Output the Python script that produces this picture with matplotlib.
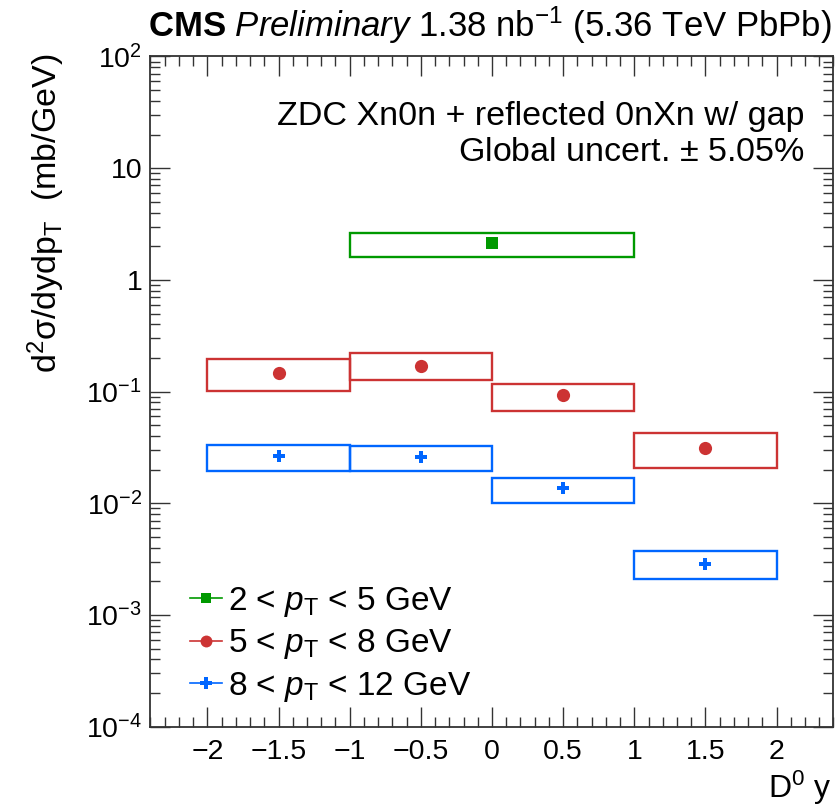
import matplotlib
matplotlib.use('Agg')
import matplotlib.pyplot as plt
from matplotlib.patches import Rectangle
from matplotlib.lines import Line2D
from matplotlib.ticker import FixedLocator, FuncFormatter, LogLocator, MultipleLocator
import numpy as np

plt.rcParams['font.family'] = ['Liberation Sans', 'DejaVu Sans']
plt.rcParams['mathtext.fontset'] = 'custom'
plt.rcParams['mathtext.rm'] = 'Liberation Sans'
plt.rcParams['mathtext.it'] = 'Liberation Sans:italic'
plt.rcParams['mathtext.bf'] = 'Liberation Sans:bold'

# rapidity bins
y_lo = [-2.0, -1.0, 0.0, 1.0]
y_hi = [-1.0, 0.0, 1.0, 2.0]

# 2 < pT < 5 GeV (only the -1..1 bin)
pt25_lo = [-1.0]
pt25_hi = [1.0]
pt25_val = [2.14]
pt25_sys_up = [2.63]
pt25_sys_dn = [1.60]

# 5 < pT < 8 GeV
pt58_val = [0.147, 0.171, 0.093, 0.031]
pt58_sys_up = [0.197, 0.220, 0.116, 0.0422]
pt58_sys_dn = [0.101, 0.127, 0.0668, 0.0208]

# 8 < pT < 12 GeV
pt812_val = [0.0265, 0.0258, 0.0136, 0.00288]
pt812_sys_up = [0.0336, 0.0327, 0.0167, 0.00376]
pt812_sys_dn = [0.0195, 0.0195, 0.0101, 0.0021]

labels = [r'2 < $p_{\mathrm{T}}$ < 5 GeV',
          r'5 < $p_{\mathrm{T}}$ < 8 GeV',
          r'8 < $p_{\mathrm{T}}$ < 12 GeV']
colors = ['#009900', '#cc3333', '#0066ff']
markers = ['s', 'o', 'P']
msizes = [8.5, 9.5, 9]

fig = plt.figure(figsize=(8.37, 8.07), dpi=100)
ax = fig.add_axes([0.1798, 0.0995, 0.816, 0.8305])


def draw_series(lo, hi, val, up, dn, col, mk, ms):
    for a, b, v, u, d in zip(lo, hi, val, up, dn):
        ax.add_patch(Rectangle((a, d), b - a, u - d, fill=False,
                               edgecolor=col, lw=1.7, zorder=2))
    x = [(a + b) / 2 for a, b in zip(lo, hi)]
    ax.plot(x, val, ls='none', marker=mk, ms=ms, color=col, mec=col, mew=0, zorder=3)


draw_series(pt25_lo, pt25_hi, pt25_val, pt25_sys_up, pt25_sys_dn,
            colors[0], markers[0], msizes[0])
draw_series(y_lo, y_hi, pt58_val, pt58_sys_up, pt58_sys_dn,
            colors[1], markers[1], msizes[1])
draw_series(y_lo, y_hi, pt812_val, pt812_sys_up, pt812_sys_dn,
            colors[2], markers[2], msizes[2])

ax.set_yscale('log')
ax.set_xlim(-2.4, 2.4)
ax.set_ylim(1e-4, 1e2)

ax.xaxis.set_major_locator(MultipleLocator(0.5))
ax.xaxis.set_minor_locator(MultipleLocator(0.1))
ax.xaxis.set_major_formatter(FuncFormatter(
    lambda v, p: ('%g' % v).replace('-', '\u2212')))
ax.yaxis.set_major_locator(FixedLocator([1e-4, 1e-3, 1e-2, 1e-1, 1, 10, 100]))
ax.yaxis.set_minor_locator(LogLocator(base=10, subs=np.arange(2, 10), numticks=20))


def yfmt(v, p):
    e = int(round(np.log10(v)))
    if e == 0:
        return '1'
    if e == 1:
        return '10'
    return r'$10^{%d}$' % e


ax.yaxis.set_major_formatter(FuncFormatter(yfmt))
ax.yaxis.set_minor_formatter(FuncFormatter(lambda v, p: ''))

ax.tick_params(which='both', direction='in', top=True, right=True,
               labelsize=20.5, width=1.0, color='#333333')
ax.tick_params(which='major', length=14.5, pad=6)
ax.tick_params(which='minor', length=7)
ax.tick_params(axis='x', which='major', pad=9)
for s in ax.spines.values():
    s.set_linewidth(1.3)
    s.set_color('#333333')

ax.text(0.958, 0.91, 'ZDC Xn0n + reflected 0nXn w/ gap', transform=ax.transAxes,
        ha='right', va='center', fontsize=24.5)
ax.text(0.958, 0.857, r'Global uncert. $\pm$ 5.05%', transform=ax.transAxes,
        ha='right', va='center', fontsize=24.5)

fig.text(0.994, 0.9545,
         r'$\mathbf{CMS}$ $\mathit{Preliminary}$ 1.38 nb$^{-1}$ (5.36 TeV PbPb)',
         ha='right', va='baseline', fontsize=25)

fig.text(0.055, 0.934, r'd$^{2}$σ/dydp$_{\mathrm{T}}$  (mb/GeV)',
         rotation=90, ha='center', va='top', fontsize=24.5)
fig.text(0.994, 0.024, r'D$^{0}$ y', ha='right', va='center', fontsize=23)

handles = [Line2D([], [], color=c, marker=m, ms=s * 0.9, mew=0, lw=1.2)
           for c, m, s in zip(colors, markers, msizes)]
ax.legend(handles, labels, loc='center left', bbox_to_anchor=(0.058, 0.123),
          frameon=False, fontsize=24, handlelength=0.97, handletextpad=0.18,
          labelspacing=0.25, borderaxespad=0, borderpad=0)

fig.savefig('out.png', dpi=100)
